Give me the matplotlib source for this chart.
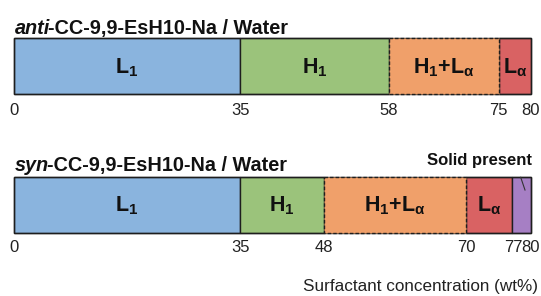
import matplotlib.pyplot as plt
from matplotlib.patches import Rectangle

plt.rcParams['font.family'] = ['Liberation Sans', 'DejaVu Sans']
plt.rcParams['mathtext.fontset'] = 'custom'
plt.rcParams['mathtext.rm'] = 'Liberation Sans'
plt.rcParams['mathtext.bf'] = 'Liberation Sans:bold'

# phase boundaries (wt%)
anti_edges = [0, 35, 58, 75, 80]
anti_phases = [r'$\mathbf{L_1}$', r'$\mathbf{H_1}$', r'$\mathbf{H_1{+}L_\alpha}$', r'$\mathbf{L_\alpha}$']
anti_colors = ['#8ab4de', '#9bc37b', '#f0a06a', '#d96263']
anti_dashed = [False, False, True, False]
anti_ticks = ['0', '35', '58', '75', '80']

syn_edges = [0, 35, 48, 70, 77, 80]
syn_phases = [r'$\mathbf{L_1}$', r'$\mathbf{H_1}$', r'$\mathbf{H_1{+}L_\alpha}$', r'$\mathbf{L_\alpha}$', '']
syn_colors = ['#8ab4de', '#9bc37b', '#f0a06a', '#d96263', '#a67fc4']
syn_dashed = [False, False, True, False, False]
syn_ticks = ['0', '35', '48', '70', '77', '80']

W, H = 541, 296
fig = plt.figure(figsize=(W / 100, H / 100), dpi=100)
ax = fig.add_axes([0, 0, 1, 1])
x0px = 14
scale = (531 - x0px) / 80
ax.set_xlim(-x0px / scale, (W - x0px) / scale)
ax.set_ylim(H, 0)
ax.axis('off')


def px(v):
    return (v - x0px) / scale


def draw_bar(edges, phases, colors, dashed, top, bottom, prefix, title_y, tick_y, ticks, tick_pos):
    for i in range(len(phases)):
        a, b = edges[i], edges[i + 1]
        ax.add_patch(Rectangle((a, top), b - a, bottom - top, facecolor=colors[i],
                               edgecolor='#1e1e1e', lw=1.0, linestyle=(0, (2.5, 1.5)) if dashed[i] else '-',
                               zorder=2 if dashed[i] else 1))
        if phases[i]:
            ax.text((a + b) / 2, (top + bottom) / 2 + 1, phases[i], ha='center', va='center',
                    fontsize=15.5, color='#111111', zorder=3)
    ax.add_patch(Rectangle((edges[0], top), edges[-1] - edges[0], bottom - top, fill=False,
                           edgecolor='#1e1e1e', lw=1.0, zorder=1.5))
    t = ax.text(edges[0] + 0.15, title_y, prefix, ha='left', va='baseline', fontsize=14.3,
                fontweight='bold', style='italic', color='#111111')
    ax.annotate('-CC-9,9-EsH10-Na / Water', xy=(1, 0), xycoords=t, xytext=(-1.5, 0),
                textcoords='offset points', ha='left', va='bottom',
                fontsize=14.3, fontweight='bold', color='#111111')
    for v, lab in zip(tick_pos, ticks):
        ax.text(v, tick_y, lab, ha='center', va='center', fontsize=12, color='#222222')


draw_bar(anti_edges, anti_phases, anti_colors, anti_dashed, 38.3, 94.3,
         'anti', 34, 110.5, anti_ticks, anti_edges)

syn_tick_pos = list(syn_edges)
syn_tick_pos[4] = 77.3
syn_tick_pos[5] = 80.0
draw_bar(syn_edges, syn_phases, syn_colors, syn_dashed, 177.3, 232.7,
         'syn', 171, 247.5, syn_ticks, syn_tick_pos)

ax.text(px(532), 161, 'Solid present', ha='right', va='center', fontsize=12,
        fontweight='bold', color='#111111')
ax.plot([px(520.7), px(525)], [177.3, 190], color='#333333', lw=0.8)

ax.text(px(538), 287, 'Surfactant concentration (wt%)', ha='right', va='center',
        fontsize=12.3, color='#222222')

fig.savefig('out.png', dpi=100)
